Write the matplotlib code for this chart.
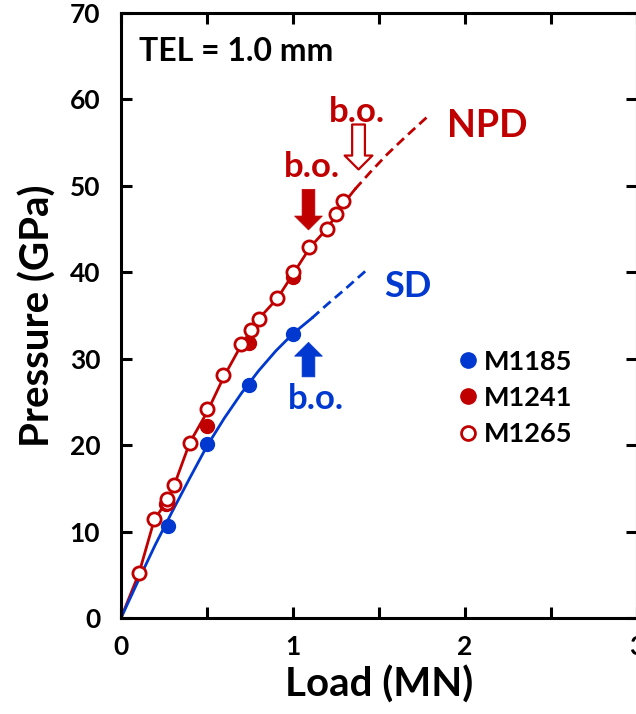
import matplotlib
matplotlib.use("Agg")
import matplotlib.pyplot as plt
from matplotlib.lines import Line2D

plt.rcParams['font.family'] = ['Lato', 'DejaVu Sans']
plt.rcParams['font.weight'] = 'bold'

RED = '#C00000'
BLUE = '#0038D0'

# ---- data ----
m1185_x = [0.275, 0.50, 0.746, 1.00]
m1185_y = [10.7, 20.1, 27.0, 32.9]

m1241_x = [0.26, 0.50, 0.746, 1.00]
m1241_y = [13.2, 22.2, 31.8, 39.4]

m1265_x = [0.105, 0.194, 0.27, 0.27, 0.308, 0.40, 0.50, 0.595, 0.696, 0.754,
           0.80, 0.909, 0.998, 1.095, 1.20, 1.25, 1.29]
m1265_y = [5.2, 11.4, 13.3, 13.8, 15.4, 20.3, 24.2, 28.1, 31.7, 33.3,
           34.6, 37.0, 40.0, 42.9, 45.0, 46.8, 48.2]

npd_fit_x = [0.0, 0.105, 0.194, 0.27, 0.31, 0.40, 0.50, 0.60, 0.70, 0.80,
             0.91, 1.00, 1.10, 1.20, 1.30, 1.36]
npd_fit_y = [0.0, 5.2, 11.4, 13.6, 15.4, 20.3, 23.8, 28.0, 31.6, 34.6,
             37.0, 39.8, 42.9, 45.1, 48.1, 49.6]
npd_ext_x = [1.36, 1.45, 1.55, 1.65, 1.787]
npd_ext_y = [49.6, 51.6, 53.7, 55.6, 58.1]

sd_fit_x = [0.0, 0.1, 0.2, 0.3, 0.4, 0.5, 0.6, 0.7, 0.8, 0.9, 1.0, 1.11]
sd_fit_y = [0.0, 4.3, 8.5, 12.4, 16.2, 19.9, 23.1, 26.0, 28.6, 30.9, 32.9, 34.7]
sd_ext_x = [1.11, 1.20, 1.30, 1.436]
sd_ext_y = [34.7, 36.3, 38.0, 40.4]

x_ticks = [0, 0.5, 1, 1.5, 2, 2.5, 3]
x_tick_labels = ['0', '', '1', '', '2', '', '3']
y_ticks = [0, 10, 20, 30, 40, 50, 60, 70]

# ---- figure ----
fig = plt.figure(figsize=(6.36, 7.14), dpi=100)
ax = fig.add_axes([121/636, 96/714, 516/636, 605/714])
ax.set_xlim(0, 3)
ax.set_ylim(0, 70)

# fit lines
ax.plot(npd_fit_x, npd_fit_y, color=RED, lw=2.0, zorder=2)
ax.plot(npd_ext_x, npd_ext_y, color=RED, lw=2.0, ls=(0, (3.5, 2)), zorder=2)
ax.plot(sd_fit_x, sd_fit_y, color=BLUE, lw=2.0, zorder=2)
ax.plot(sd_ext_x, sd_ext_y, color=BLUE, lw=2.0, ls=(0, (3.5, 2)), zorder=2)

# data points
ax.plot(m1185_x, m1185_y, 'o', color=BLUE, ms=10, mec=BLUE, zorder=3)
ax.plot(m1241_x, m1241_y, 'o', color=RED, ms=10, mec=RED, zorder=3)
ax.plot(m1265_x, m1265_y, 'o', mfc='white', mec=RED, mew=2.0, ms=9.5, zorder=4)

# arrows
style = 'simple,head_width=1.0,head_length=0.5,tail_width=0.46'
ax.annotate('', xy=(1.09, 44.9), xytext=(1.09, 49.6),
            arrowprops=dict(arrowstyle=style, fc=RED, ec=RED, lw=0.5,
                            mutation_scale=20, shrinkA=0, shrinkB=0))
ax.annotate('', xy=(1.381, 51.9), xytext=(1.381, 57.1),
            arrowprops=dict(arrowstyle=style, fc='white', ec=RED, lw=1.6,
                            mutation_scale=20, shrinkA=0, shrinkB=0))
ax.annotate('', xy=(1.09, 31.9), xytext=(1.09, 27.9),
            arrowprops=dict(arrowstyle=style, fc=BLUE, ec=BLUE, lw=0.5,
                            mutation_scale=20, shrinkA=0, shrinkB=0))

# texts
ax.text(0.105, 65.6, 'TEL = 1.0 mm', fontsize=23, fontweight='bold',
        color='black', ha='left', va='center')
ax.text(1.372, 58.6, 'b.o.', fontsize=25, fontweight='bold', color=RED,
        ha='center', va='center')
ax.text(1.11, 52.2, 'b.o.', fontsize=25, fontweight='bold', color=RED,
        ha='center', va='center')
ax.text(1.134, 25.3, 'b.o.', fontsize=25, fontweight='bold', color=BLUE,
        ha='center', va='center')
ax.text(2.13, 56.9, 'NPD', fontsize=27, fontweight='bold', color=RED,
        ha='center', va='center')
ax.text(1.67, 38.4, 'SD', fontsize=26, fontweight='bold', color=BLUE,
        ha='center', va='center')

# legend
handles = [
    Line2D([], [], ls='none', marker='o', color=BLUE, ms=11),
    Line2D([], [], ls='none', marker='o', color=RED, ms=11),
    Line2D([], [], ls='none', marker='o', mfc='white', mec=RED, mew=2.0, ms=10),
]
ax.legend(handles, ['M1185', 'M1241', 'M1265'], loc='upper left',
          bbox_to_anchor=(0.630, 0.466), frameon=False, borderpad=0,
          handlelength=0.6, handletextpad=0.3, labelspacing=0.45,
          prop=dict(family='Lato', weight='bold', size=19.5))

# axes styling
for s in ax.spines.values():
    s.set_linewidth(2.2)
ax.set_xticks(x_ticks)
ax.set_xticklabels(x_tick_labels)
ax.set_yticks(y_ticks)
ax.tick_params(direction='in', length=8, width=2.2, top=True, right=True,
               labelsize=19)
ax.tick_params(axis='x', pad=12)
ax.tick_params(axis='y', pad=15)
for lab in ax.get_xticklabels() + ax.get_yticklabels():
    lab.set_fontweight('bold')

ax.set_xlabel('Load (MN)', fontsize=29, fontweight='bold', labelpad=5)
ax.set_ylabel('Pressure (GPa)', fontsize=29, fontweight='bold', labelpad=9)

fig.savefig('out.png', dpi=100)
